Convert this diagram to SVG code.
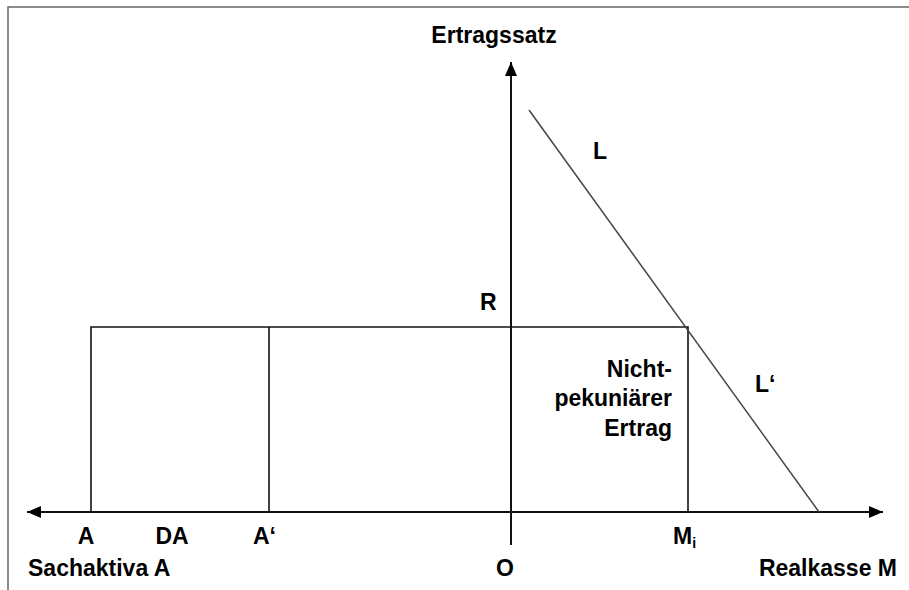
<svg xmlns="http://www.w3.org/2000/svg" width="909" height="590" viewBox="0 0 909 590">
<style>
text{font-family:"Liberation Sans",Arial,sans-serif;font-weight:bold;font-size:23px;fill:#000}
.ax{stroke:#111;stroke-width:2;fill:none}
.ln{stroke:#111;stroke-width:1.6;fill:none}
.cv{stroke:#444;stroke-width:1.5;fill:none}
</style>
<defs>
<marker id="ah" viewBox="0 0 14 12" refX="14" refY="6" markerWidth="14" markerHeight="12" markerUnits="userSpaceOnUse" orient="auto">
<path d="M0,0 L14,6 L0,12 z" fill="#000"/>
</marker>
</defs>
<rect x="8" y="7" width="1000" height="700" fill="#fff" stroke="#666" stroke-width="1.5"/>
<g id="connectors">
<line class="ax" x1="511" y1="545" x2="511" y2="62" marker-end="url(#ah)"/>
<line class="ax" x1="511" y1="512" x2="883" y2="512" marker-end="url(#ah)"/>
<line class="ax" x1="511" y1="512" x2="27" y2="512" marker-end="url(#ah)"/>
<path class="ln" d="M91,512 V327 H688 V512"/>
<line class="ln" x1="269" y1="327" x2="269" y2="512"/>
<line class="cv" x1="529" y1="110" x2="819" y2="512"/>
</g>
<g id="ertragssatz"><text x="494" y="43" text-anchor="middle">Ertragssatz</text></g>
<g id="L"><text x="593" y="159">L</text></g>
<g id="Lprime"><text x="755" y="392">L‘</text></g>
<g id="R"><text x="480" y="310">R</text></g>
<g id="nichtpekuniaer">
<text x="672" y="377" text-anchor="end">Nicht-</text>
<text x="672" y="406" text-anchor="end">pekuniärer</text>
<text x="672" y="436" text-anchor="end">Ertrag</text>
</g>
<g id="A"><text x="86" y="544" text-anchor="middle">A</text></g>
<g id="DA"><text x="172" y="544" text-anchor="middle">DA</text></g>
<g id="Aprime"><text x="253" y="544">A‘</text></g>
<g id="Mi"><text x="673" y="544">M<tspan font-size="14" dy="4">i</tspan></text></g>
<g id="sachaktiva"><text x="28" y="576">Sachaktiva A</text></g>
<g id="O"><text x="505" y="576" text-anchor="middle">O</text></g>
<g id="realkasse"><text x="897" y="576" text-anchor="end">Realkasse M</text></g>
</svg>
